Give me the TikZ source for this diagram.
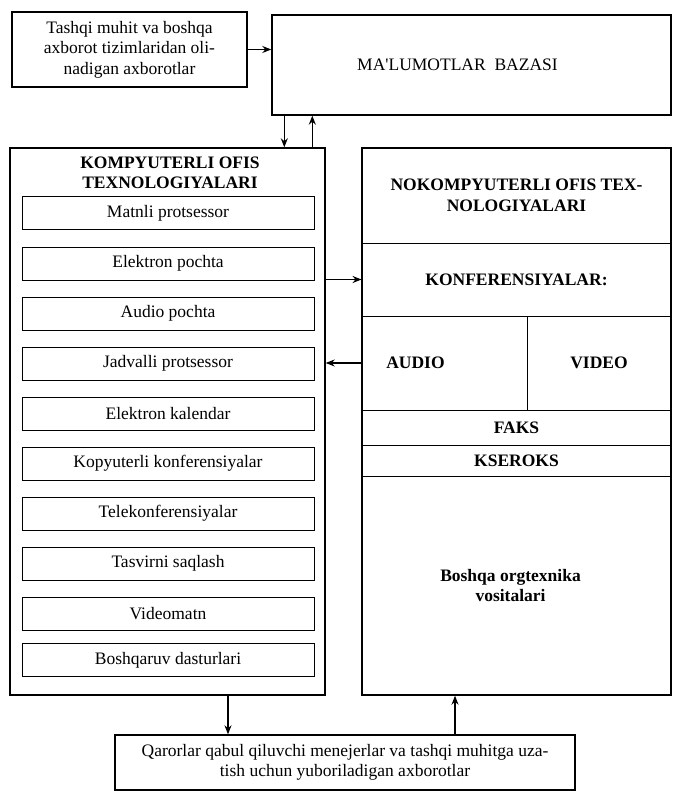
\documentclass[tikz,border=0pt]{standalone}
\usepackage{fontspec}
\setmainfont{Liberation Serif}[Ligatures=TeXOff]
\usetikzlibrary{arrows.meta,positioning}

\begin{document}
\begin{tikzpicture}[x=1pt, y=-1pt, font=\fontsize{17.5}{20.5}\selectfont,
  box/.style={draw, line width=1.4pt, inner sep=0pt},
  item/.style={draw, line width=0.9pt, minimum width=292pt, minimum height=33pt, inner sep=0pt},
  cell/.style={draw, line width=0.9pt, inner sep=0pt, align=center, font=\fontsize{17.5}{20.5}\selectfont\bfseries},
  arr/.style={-{Stealth[length=9pt,width=7pt]}, line width=1.1pt}]
\useasboundingbox (0,0) rectangle (672,791);
% top row
\node[box, minimum width=235pt, minimum height=75pt, align=center] (src) at (129.5,49.5) {Tashqi muhit va boshqa\\axborot tizimlaridan oli-\\nadigan axborotlar};
\node[box, minimum width=399pt, minimum height=100pt] (db) at (471.5,65) {MA'LUMOTLAR\ \ BAZASI\hspace*{28pt}};
\draw[arr] (src.east) -- (src.east -| db.west);
% computer office technologies
\node[box, minimum width=315pt, minimum height=547pt] (komp) at (167.5,421.5) {};
\node[font=\fontsize{17.5}{20.5}\selectfont\bfseries, align=center] (kt) at (170,173) {KOMPYUTERLI OFIS\\TEXNOLOGIYALARI};
\foreach \n/\y/\t in {1/213/Matnli protsessor, 2/263.5/Elektron pochta, 3/313.5/Audio pochta,
  4/363.5/Jadvalli protsessor, 5/413.5/Elektron kalendar, 6/463.5/Kopyuterli konferensiyalar,
  7/513.5/Telekonferensiyalar, 8/563.5/Tasvirni saqlash, 9/613.5/Videomatn, 10/660/Boshqaruv dasturlari}
  \node[item] (k\n) at (168,\y) {\t};
% non-computer office technologies
\node[cell, minimum width=309pt, minimum height=95pt] (nk) at (516.5,195.5) {NOKOMPYUTERLI OFIS TEX-\\NOLOGIYALARI};
\node[cell, minimum width=309pt, minimum height=73pt] (konf) at (516.5,279.5) {KONFERENSIYALAR:};
\node[cell, minimum width=165pt, minimum height=94pt] (audio) at (444.5,363) {AUDIO\hspace*{58pt}};
\node[cell, minimum width=144pt, minimum height=94pt] (video) at (599,363) {VIDEO};
\node[cell, minimum width=309pt, minimum height=35pt] (faks) at (516.5,427.5) {FAKS};
\node[cell, minimum width=309pt, minimum height=31pt] (kser) at (516.5,460.5) {KSEROKS};
\node[cell, minimum width=309pt, minimum height=219pt] (boshqa) at (516.5,585.5) {Boshqa orgtexnika\hspace*{12pt}\\vositalari\hspace*{12pt}};
\node[box, minimum width=309pt, minimum height=547pt] (nokomp) at (516.5,421.5) {};
% output
\node[box, minimum width=460pt, minimum height=55pt, align=center] (out) at (345,762.5) {Qarorlar qabul qiluvchi menejerlar va tashqi muhitga uza-\\tish uchun yuboriladigan axborotlar};
% links
\coordinate (dn) at ([xshift=13pt]db.south west);
\coordinate (up) at ([xshift=41pt]db.south west);
\draw[arr] (dn) -- (dn |- komp.north);
\draw[arr] (up |- komp.north) -- (up);
\draw[arr] (konf.west -| komp.east) -- (konf.west);
\draw[arr] (audio.west) -- (audio.west -| komp.east);
\coordinate (kd) at ([xshift=60.5pt]komp.south);
\coordinate (ou) at ([xshift=110pt]out.north);
\draw[arr] (kd) -- (kd |- out.north);
\draw[arr] (ou) -- (ou |- nokomp.south);
\end{tikzpicture}
\end{document}
